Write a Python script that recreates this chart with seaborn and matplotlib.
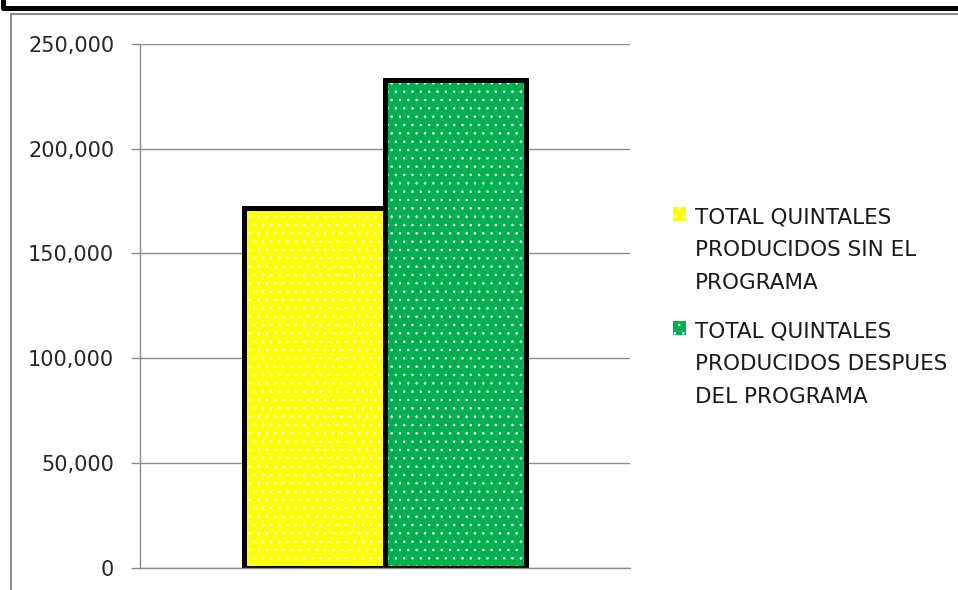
import matplotlib
matplotlib.use("Agg")
import matplotlib.pyplot as plt
from matplotlib.patches import Rectangle
from matplotlib.lines import Line2D
from matplotlib.ticker import FuncFormatter, MultipleLocator
import seaborn as sns
import pandas as pd

# Data
series = [
    "TOTAL QUINTALES\nPRODUCIDOS SIN EL\nPROGRAMA",
    "TOTAL QUINTALES\nPRODUCIDOS DESPUES\nDEL PROGRAMA",
]
quintales = [171800, 232800]
colors = ["#FFFF00", "#00B050"]

df = pd.DataFrame({"grupo": [""] * len(series), "serie": series, "quintales": quintales})

sns.set_theme(style="white")
plt.rcParams["font.family"] = ["DejaVu Sans"]
plt.rcParams["hatch.linewidth"] = 0.6

W, H = 958, 590
fig = plt.figure(figsize=(W / 100, H / 100), dpi=100)
fig.patch.set_facecolor("white")
ax = fig.add_axes([140 / W, 22.5 / H, 490 / W, 523.5 / H])

sns.barplot(data=df, x="grupo", y="quintales", hue="serie", hue_order=series,
            palette=colors, width=0.8, gap=0, saturation=1, ax=ax, legend=True)

# dotted fill plus a heavy black outline on each bar
bars = list(ax.patches)
for b in bars:
    b.set_edgecolor("white")
    b.set_linewidth(0)
    b.set_hatch("..")
    ax.add_patch(Rectangle(b.get_xy(), b.get_width(), b.get_height(), fill=False,
                           edgecolor="black", linewidth=3.6, joinstyle="miter",
                           zorder=b.get_zorder() + 1))

ax.set_xlim(-0.695, 0.695)
ax.set_ylim(0, 250000)
ax.yaxis.set_major_locator(MultipleLocator(50000))
ax.yaxis.set_major_formatter(FuncFormatter(lambda v, p: f"{int(v):,}"))
ax.set_xlabel("")
ax.set_ylabel("")
ax.set_xticks([])
ax.set_axisbelow(True)
ax.grid(axis="y", color="#8c8c8c", linewidth=1.0)
for s in ["top", "right"]:
    ax.spines[s].set_visible(False)
for s in ["left", "bottom"]:
    ax.spines[s].set_color("#8c8c8c")
    ax.spines[s].set_linewidth(1.0)
ax.tick_params(axis="y", which="major", left=True, length=6.5, width=1.0,
               color="#8c8c8c", labelsize=15, labelcolor="#262626", pad=12)

# legend with small dotted squares beside the first line of each entry
handles, labels = ax.get_legend_handles_labels()
for h in handles:
    h.set_edgecolor("white")
    h.set_linewidth(0)
    h.set_hatch("..")
leg = ax.legend(handles, labels, loc="upper left",
                bbox_to_anchor=(673 / W, 1 - 207 / H), bbox_transform=fig.transFigure,
                frameon=False, fontsize=15.5, handlelength=0.6, handleheight=0.6,
                handletextpad=0.42, borderpad=0, borderaxespad=0, labelspacing=1.3)
for t in leg.get_texts():
    t.set_linespacing(1.82)
    t.set_color("#1a1a1a")
for col in leg._legend_handle_box.get_children():
    for row in col.get_children():
        row.align = "top"

# chart frame: gray border and the heavy black rule above it
fig.add_artist(Line2D([10.5 / W, 10.5 / W], [0, 1 - 14 / H], color="#8c8c8c", linewidth=1.5))
fig.add_artist(Line2D([10.5 / W, 1], [1 - 14 / H, 1 - 14 / H], color="#8c8c8c", linewidth=1.5))
fig.add_artist(Line2D([2.5 / W, 2.5 / W, 1], [1, 1 - 7.5 / H, 1 - 7.5 / H], color="black",
                      linewidth=3.6, solid_joinstyle="round"))

fig.savefig("out.png", dpi=100, facecolor="white")
